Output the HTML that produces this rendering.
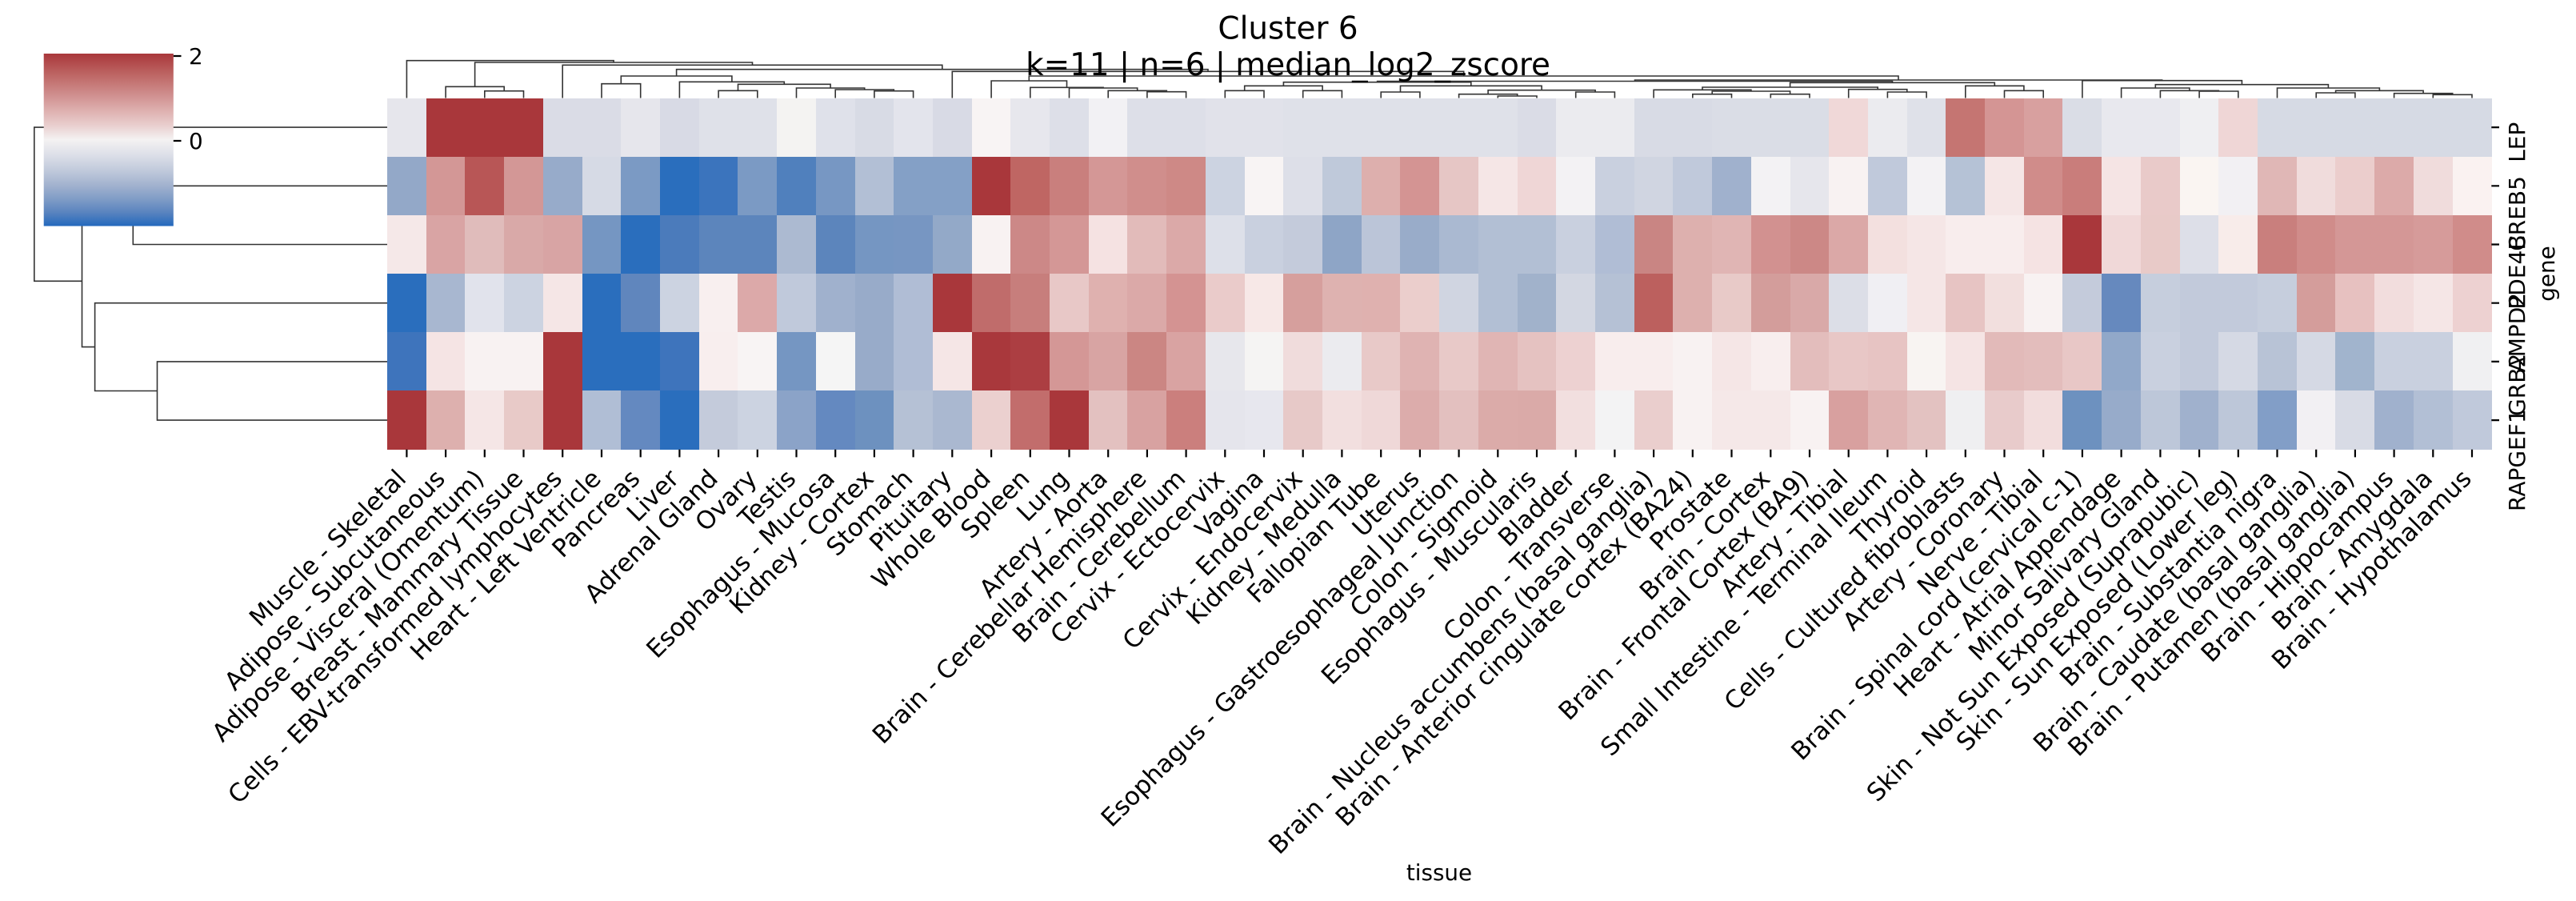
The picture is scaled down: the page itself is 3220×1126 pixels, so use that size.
<!DOCTYPE html>
<html><head><meta charset="utf-8"><style>
html,body{margin:0;padding:0;background:#fff;}
#wrap{position:relative;width:3220px;height:1126px;overflow:hidden;background:#fff;}
#hm{position:absolute;left:484px;top:122.5px;width:2630.3px;height:439.2px;display:grid;grid-template-columns:repeat(54,1fr);grid-template-rows:repeat(6,1fr);}
#hm i{display:block;margin-right:-0.5px;margin-bottom:-0.5px;}
svg{position:absolute;left:0;top:0;}
</style></head><body><div id="wrap">
<div id="hm">
<i style="background:#e6e6ec"></i><i style="background:#a9373b"></i><i style="background:#a9373b"></i><i style="background:#a9373b"></i><i style="background:#dadce6"></i><i style="background:#dadce6"></i><i style="background:#e6e6ec"></i><i style="background:#d8dae5"></i><i style="background:#dfe1e9"></i><i style="background:#dfe1e9"></i><i style="background:#f4f3f2"></i><i style="background:#dfe1ea"></i><i style="background:#d8dbe5"></i><i style="background:#e3e4ec"></i><i style="background:#d8dae5"></i><i style="background:#f8f4f4"></i><i style="background:#e7e7ed"></i><i style="background:#dddfe8"></i><i style="background:#f2f1f4"></i><i style="background:#dddfe8"></i><i style="background:#dddfe8"></i><i style="background:#e1e2ea"></i><i style="background:#e1e2ea"></i><i style="background:#dfe1e9"></i><i style="background:#dfe1e9"></i><i style="background:#dfe1e9"></i><i style="background:#dfe1e9"></i><i style="background:#dfe1e9"></i><i style="background:#dfe1e9"></i><i style="background:#dadce6"></i><i style="background:#ebebef"></i><i style="background:#ebebef"></i><i style="background:#d8dbe5"></i><i style="background:#d8dbe5"></i><i style="background:#dadde6"></i><i style="background:#dadde6"></i><i style="background:#dadde6"></i><i style="background:#f0d8d8"></i><i style="background:#ebebef"></i><i style="background:#dfe1e9"></i><i style="background:#c57572"></i><i style="background:#d49594"></i><i style="background:#d8a09f"></i><i style="background:#dadde6"></i><i style="background:#e8e8ee"></i><i style="background:#e8e8ee"></i><i style="background:#efeff2"></i><i style="background:#efd6d6"></i><i style="background:#d6dae4"></i><i style="background:#d6dae4"></i><i style="background:#d6dae4"></i><i style="background:#d6dae4"></i><i style="background:#d6dae4"></i><i style="background:#d6dae4"></i>
<i style="background:#93a8c8"></i><i style="background:#d39796"></i><i style="background:#b85656"></i><i style="background:#d39796"></i><i style="background:#97abca"></i><i style="background:#d6dae5"></i><i style="background:#7b9ac4"></i><i style="background:#2a6ebd"></i><i style="background:#3b74bd"></i><i style="background:#7b9ac4"></i><i style="background:#5080bd"></i><i style="background:#7797c3"></i><i style="background:#b2bfd5"></i><i style="background:#84a0c6"></i><i style="background:#84a0c6"></i><i style="background:#a9373b"></i><i style="background:#bf6663"></i><i style="background:#c97f7d"></i><i style="background:#d49796"></i><i style="background:#d08e8c"></i><i style="background:#ce8986"></i><i style="background:#ccd3e1"></i><i style="background:#f8f4f4"></i><i style="background:#dddfe8"></i><i style="background:#bfc9da"></i><i style="background:#ddafad"></i><i style="background:#d49493"></i><i style="background:#e6c6c5"></i><i style="background:#f5e6e6"></i><i style="background:#efd6d6"></i><i style="background:#f3f2f4"></i><i style="background:#c9d0df"></i><i style="background:#d0d5e1"></i><i style="background:#c0c9db"></i><i style="background:#a0b1cd"></i><i style="background:#f3f2f4"></i><i style="background:#e6e6ec"></i><i style="background:#f8f2f2"></i><i style="background:#c0c9db"></i><i style="background:#f3f2f4"></i><i style="background:#b5c2d6"></i><i style="background:#f5e6e6"></i><i style="background:#d08c8a"></i><i style="background:#c97d7b"></i><i style="background:#f5e4e4"></i><i style="background:#e9cac9"></i><i style="background:#faf5f2"></i><i style="background:#f2f0f3"></i><i style="background:#e0b7b6"></i><i style="background:#f0dcdc"></i><i style="background:#ebcdcc"></i><i style="background:#dcaaa9"></i><i style="background:#f0dcdc"></i><i style="background:#faf2f1"></i>
<i style="background:#f5e8e8"></i><i style="background:#d9a4a4"></i><i style="background:#e0bcbb"></i><i style="background:#d9a9a8"></i><i style="background:#d8a4a4"></i><i style="background:#7596c2"></i><i style="background:#2a6ebd"></i><i style="background:#4b7bbb"></i><i style="background:#5c85bc"></i><i style="background:#5c85bc"></i><i style="background:#acbad1"></i><i style="background:#5c85bc"></i><i style="background:#7596c2"></i><i style="background:#7796c2"></i><i style="background:#93a9c8"></i><i style="background:#f8f2f2"></i><i style="background:#cc8887"></i><i style="background:#d49796"></i><i style="background:#f5e2e2"></i><i style="background:#e2bbba"></i><i style="background:#dba9a8"></i><i style="background:#dde0e9"></i><i style="background:#c9d0df"></i><i style="background:#c4cbdb"></i><i style="background:#8ea5c6"></i><i style="background:#bbc5d8"></i><i style="background:#99acc9"></i><i style="background:#aab9d1"></i><i style="background:#b2bfd4"></i><i style="background:#b2bfd4"></i><i style="background:#c9d0df"></i><i style="background:#b0bdd5"></i><i style="background:#c98583"></i><i style="background:#ddb0ae"></i><i style="background:#e0b5b4"></i><i style="background:#d29190"></i><i style="background:#cc8886"></i><i style="background:#dba8a7"></i><i style="background:#f3e0df"></i><i style="background:#f5e6e6"></i><i style="background:#f8eded"></i><i style="background:#f8eded"></i><i style="background:#f5e3e3"></i><i style="background:#a9373b"></i><i style="background:#f0d8d8"></i><i style="background:#e8cac8"></i><i style="background:#dddfe8"></i><i style="background:#f8ecea"></i><i style="background:#c97f7d"></i><i style="background:#d08c8a"></i><i style="background:#d49796"></i><i style="background:#d49796"></i><i style="background:#d69b9a"></i><i style="background:#d08c8a"></i>
<i style="background:#2a6ebd"></i><i style="background:#a8b7d0"></i><i style="background:#e1e3ec"></i><i style="background:#ccd3e1"></i><i style="background:#f5e6e6"></i><i style="background:#2a6ebd"></i><i style="background:#6086bd"></i><i style="background:#ccd3e1"></i><i style="background:#f8efef"></i><i style="background:#dca9a9"></i><i style="background:#c0c9db"></i><i style="background:#a0b1cd"></i><i style="background:#98abc9"></i><i style="background:#b0bdd5"></i><i style="background:#a9373b"></i><i style="background:#c06c6b"></i><i style="background:#c77e7c"></i><i style="background:#e8c8c7"></i><i style="background:#dfb1af"></i><i style="background:#dba9a8"></i><i style="background:#d49392"></i><i style="background:#eacbca"></i><i style="background:#f7e8e7"></i><i style="background:#d69f9d"></i><i style="background:#deb2b0"></i><i style="background:#dfb1af"></i><i style="background:#ebcecc"></i><i style="background:#d0d5e1"></i><i style="background:#b2bfd4"></i><i style="background:#a1b2cb"></i><i style="background:#d3d7e2"></i><i style="background:#b5c1d5"></i><i style="background:#bc605e"></i><i style="background:#ddb0ae"></i><i style="background:#e8cac8"></i><i style="background:#d39d9b"></i><i style="background:#d9a9a8"></i><i style="background:#dcdee7"></i><i style="background:#f0eff3"></i><i style="background:#f5e6e6"></i><i style="background:#e7c4c3"></i><i style="background:#f2dfde"></i><i style="background:#f8f2f2"></i><i style="background:#c4cbdb"></i><i style="background:#6689be"></i><i style="background:#c6cedd"></i><i style="background:#c2cadb"></i><i style="background:#c2cadb"></i><i style="background:#c6cedd"></i><i style="background:#d49d9b"></i><i style="background:#e7c1c0"></i><i style="background:#f2dddd"></i><i style="background:#f5e6e6"></i><i style="background:#edd1d1"></i>
<i style="background:#3e74bc"></i><i style="background:#f5e4e4"></i><i style="background:#f8f2f2"></i><i style="background:#f8f2f2"></i><i style="background:#a9373b"></i><i style="background:#2a6ebd"></i><i style="background:#2a6ebd"></i><i style="background:#3e74bc"></i><i style="background:#f8eeee"></i><i style="background:#f8f4f4"></i><i style="background:#7596c2"></i><i style="background:#f5f5f5"></i><i style="background:#98abc9"></i><i style="background:#b0bdd5"></i><i style="background:#f5e6e6"></i><i style="background:#a9383c"></i><i style="background:#ac3e42"></i><i style="background:#d49796"></i><i style="background:#d8a4a3"></i><i style="background:#cb8683"></i><i style="background:#d9a3a2"></i><i style="background:#e7e7ec"></i><i style="background:#f5f4f3"></i><i style="background:#f0dcdc"></i><i style="background:#ebebef"></i><i style="background:#e8c9c8"></i><i style="background:#dfb3b2"></i><i style="background:#e8c9c8"></i><i style="background:#e0b5b4"></i><i style="background:#e5c2c1"></i><i style="background:#edd1d1"></i><i style="background:#f8eded"></i><i style="background:#f8eded"></i><i style="background:#f8f2f2"></i><i style="background:#f5e6e6"></i><i style="background:#f8eeee"></i><i style="background:#e3bdbc"></i><i style="background:#e8c7c6"></i><i style="background:#e7c4c3"></i><i style="background:#f8f4f2"></i><i style="background:#f5e4e4"></i><i style="background:#e2bab9"></i><i style="background:#e3bdbc"></i><i style="background:#e8c7c6"></i><i style="background:#91a8c9"></i><i style="background:#c9d0df"></i><i style="background:#c2cadb"></i><i style="background:#d5d9e4"></i><i style="background:#b8c3d6"></i><i style="background:#d5d9e4"></i><i style="background:#a1b4cd"></i><i style="background:#c9d0df"></i><i style="background:#c9d0df"></i><i style="background:#f0f0f2"></i>
<i style="background:#a9373b"></i><i style="background:#ddb0ae"></i><i style="background:#f5e6e6"></i><i style="background:#e8cac8"></i><i style="background:#a9373b"></i><i style="background:#b0bed5"></i><i style="background:#6489c0"></i><i style="background:#2a6ebd"></i><i style="background:#c4cbdb"></i><i style="background:#ccd3e1"></i><i style="background:#8ba3c8"></i><i style="background:#6489c0"></i><i style="background:#6d91bf"></i><i style="background:#b5c1d5"></i><i style="background:#aab8d0"></i><i style="background:#ebd0cf"></i><i style="background:#c26d6c"></i><i style="background:#a9373b"></i><i style="background:#e3c1c0"></i><i style="background:#d8a2a1"></i><i style="background:#cb7f7d"></i><i style="background:#e5e5ec"></i><i style="background:#e7e7ee"></i><i style="background:#e7c9c8"></i><i style="background:#f2dfdf"></i><i style="background:#efd8d8"></i><i style="background:#dcacab"></i><i style="background:#e3c0bf"></i><i style="background:#dbaba9"></i><i style="background:#daaaa8"></i><i style="background:#f2dfdf"></i><i style="background:#f3f3f4"></i><i style="background:#eacecd"></i><i style="background:#f8f2f2"></i><i style="background:#f5e8e8"></i><i style="background:#f5e8e8"></i><i style="background:#f8f2f2"></i><i style="background:#d8a09f"></i><i style="background:#e0b5b4"></i><i style="background:#e3c2c1"></i><i style="background:#efeff1"></i><i style="background:#e8cbcb"></i><i style="background:#f2dddd"></i><i style="background:#6d91bf"></i><i style="background:#97abca"></i><i style="background:#bdc7d9"></i><i style="background:#a0b1cd"></i><i style="background:#bdc7d9"></i><i style="background:#829ec7"></i><i style="background:#f2f0f3"></i><i style="background:#d8dbe5"></i><i style="background:#a0b1cd"></i><i style="background:#b2bfd5"></i><i style="background:#c0c9db"></i>
</div>
<svg width="3220" height="1126" viewBox="0 0 3220 1126" xmlns="http://www.w3.org/2000/svg" font-family="'DejaVu Sans','Liberation Sans',sans-serif">
<defs>
<linearGradient id="vlag" x1="0" y1="1" x2="0" y2="0">
<stop offset="0" stop-color="#2369bd"/>
<stop offset="0.08" stop-color="#5a84bf"/>
<stop offset="0.155" stop-color="#7f9cc6"/>
<stop offset="0.24" stop-color="#a3b3cf"/>
<stop offset="0.32" stop-color="#c0c9db"/>
<stop offset="0.41" stop-color="#dcdfe8"/>
<stop offset="0.5" stop-color="#f4f2f2"/>
<stop offset="0.59" stop-color="#e8cccc"/>
<stop offset="0.67" stop-color="#deb0af"/>
<stop offset="0.756" stop-color="#d09090"/>
<stop offset="0.88" stop-color="#bd6563"/>
<stop offset="1" stop-color="#a9373b"/>
</linearGradient>
</defs>
<!-- row dendrogram -->
<g fill="none" stroke="#333" stroke-width="1.6">
<path d="M484 159.1H42.8V351.3H102.5"/>
<path d="M166.3 268.9H102.5V433.6H118.6"/>
<path d="M484 232.3H166.3V305.5H484"/>
<path d="M484 378.7H118.6V488.5H196.5"/>
<path d="M484 451.9H196.5V525.1H484"/>
</g>
<!-- column dendrogram -->
<g fill="none" stroke="#333" stroke-width="1.6">
<path d="M605.8 122.5V113.7H654.5V122.5"/>
<path d="M557.1 122.5V108.3H630.2V113.7"/>
<path d="M752.0 122.5V104.7H800.7V122.5"/>
<path d="M898.1 122.5V113.3H946.8V122.5"/>
<path d="M1092.9 122.5V113.7H1141.6V122.5"/>
<path d="M1044.2 122.5V112H1117.3V113.7"/>
<path d="M995.5 122.5V110H1080.7V112"/>
<path d="M922.5 113.3V105.3H1038.1V110"/>
<path d="M849.4 122.5V102.3H980.3V105.3"/>
<path d="M776.3 104.7V95H914.9V102.3"/>
<path d="M1433.9 122.5V114.7H1482.6V122.5"/>
<path d="M1385.2 122.5V113.3H1458.3V114.7"/>
<path d="M1336.5 122.5V110H1421.7V113.3"/>
<path d="M1287.8 122.5V109.3H1379.1V110"/>
<path d="M1239.1 122.5V101H1333.5V109.3"/>
<path d="M1531.3 122.5V113.3H1580.0V122.5"/>
<path d="M1628.7 122.5V113.3H1677.4V122.5"/>
<path d="M1555.7 113.3V107.3H1653.1V113.3"/>
<path d="M1726.2 122.5V115H1774.9V122.5"/>
<path d="M1872.3 122.5V120H1921.0V122.5"/>
<path d="M1823.6 122.5V117.7H1896.7V120"/>
<path d="M1969.7 122.5V115H2018.4V122.5"/>
<path d="M1860.1 117.7V112.7H1994.1V115"/>
<path d="M1750.5 115V107.3H1927.1V112.7"/>
<path d="M1604.4 107.3V102.7H1838.8V107.3"/>
<path d="M2115.8 122.5V117.7H2164.5V122.5"/>
<path d="M2213.3 122.5V117.7H2262.0V122.5"/>
<path d="M2140.2 117.7V114H2237.6V117.7"/>
<path d="M2067.1 122.5V112.3H2188.9V114"/>
<path d="M2359.4 122.5V115H2408.1V122.5"/>
<path d="M2310.7 122.5V111.7H2383.8V115"/>
<path d="M2128.0 112.3V109H2347.2V111.7"/>
<path d="M2505.5 122.5V113.3H2554.2V122.5"/>
<path d="M2456.8 122.5V107.3H2529.9V113.3"/>
<path d="M2237.6 109V103.3H2493.3V107.3"/>
<path d="M1721.6 102.7V101.5H2365.5V103.3"/>
<path d="M2749.1 122.5V114H2797.8V122.5"/>
<path d="M2700.4 122.5V113.3H2773.4V114"/>
<path d="M2651.6 122.5V110H2736.9V113.3"/>
<path d="M2895.2 122.5V116H2943.9V122.5"/>
<path d="M3041.3 122.5V118.3H3090.0V122.5"/>
<path d="M2992.6 122.5V116.7H3065.7V118.3"/>
<path d="M2919.6 116V113.3H3029.1V116.7"/>
<path d="M2846.5 122.5V110H2974.4V113.3"/>
<path d="M2694.3 110V105.7H2910.4V110"/>
<path d="M2602.9 122.5V100.7H2802.4V105.7"/>
<path d="M2043.5 101.5V100H2702.6V100.7"/>
<path d="M1286.3 101V95H2373.0V100"/>
<path d="M1190.3 122.5V89.3H1829.7V95"/>
<path d="M845.6 95V86.7H1510.0V89.3"/>
<path d="M703.2 122.5V81.3H1177.8V86.7"/>
<path d="M593.6 108.3V78H940.5V81.3"/>
<path d="M508.4 122.5V75.7H767.1V78"/>
</g>
<!-- colorbar -->
<rect x="54.7" y="67" width="162.1" height="215.5" fill="url(#vlag)"/>
<path d="M216.8 70H226.5M216.8 176H226.5" stroke="#000" stroke-width="2.2"/>
<g font-size="27.8" fill="#000">
<text x="236" y="80.2">2</text>
<text x="236" y="186.2">0</text>
</g>
<!-- ticks -->
<path stroke="#000" stroke-width="2.2" fill="none" d="M508.4 561.7v9.7M557.1 561.7v9.7M605.8 561.7v9.7M654.5 561.7v9.7M703.2 561.7v9.7M752.0 561.7v9.7M800.7 561.7v9.7M849.4 561.7v9.7M898.1 561.7v9.7M946.8 561.7v9.7M995.5 561.7v9.7M1044.2 561.7v9.7M1092.9 561.7v9.7M1141.6 561.7v9.7M1190.3 561.7v9.7M1239.1 561.7v9.7M1287.8 561.7v9.7M1336.5 561.7v9.7M1385.2 561.7v9.7M1433.9 561.7v9.7M1482.6 561.7v9.7M1531.3 561.7v9.7M1580.0 561.7v9.7M1628.7 561.7v9.7M1677.4 561.7v9.7M1726.2 561.7v9.7M1774.9 561.7v9.7M1823.6 561.7v9.7M1872.3 561.7v9.7M1921.0 561.7v9.7M1969.7 561.7v9.7M2018.4 561.7v9.7M2067.1 561.7v9.7M2115.8 561.7v9.7M2164.5 561.7v9.7M2213.3 561.7v9.7M2262.0 561.7v9.7M2310.7 561.7v9.7M2359.4 561.7v9.7M2408.1 561.7v9.7M2456.8 561.7v9.7M2505.5 561.7v9.7M2554.2 561.7v9.7M2602.9 561.7v9.7M2651.6 561.7v9.7M2700.4 561.7v9.7M2749.1 561.7v9.7M2797.8 561.7v9.7M2846.5 561.7v9.7M2895.2 561.7v9.7M2943.9 561.7v9.7M2992.6 561.7v9.7M3041.3 561.7v9.7M3090.0 561.7v9.7M3114.3 159.1h9.7M3114.3 232.3h9.7M3114.3 305.5h9.7M3114.3 378.7h9.7M3114.3 451.9h9.7M3114.3 525.1h9.7"/>
<!-- x tick labels -->
<g font-size="31" fill="#000" text-anchor="end">
<text transform="translate(509.4 600) rotate(-45)">Muscle - Skeletal</text>
<text transform="translate(558.1 600) rotate(-45)">Adipose - Subcutaneous</text>
<text transform="translate(606.8 600) rotate(-45)">Adipose - Visceral (Omentum)</text>
<text transform="translate(655.5 600) rotate(-45)">Breast - Mammary Tissue</text>
<text transform="translate(704.2 600) rotate(-45)">Cells - EBV-transformed lymphocytes</text>
<text transform="translate(753.0 600) rotate(-45)">Heart - Left Ventricle</text>
<text transform="translate(801.7 600) rotate(-45)">Pancreas</text>
<text transform="translate(850.4 600) rotate(-45)">Liver</text>
<text transform="translate(899.1 600) rotate(-45)">Adrenal Gland</text>
<text transform="translate(947.8 600) rotate(-45)">Ovary</text>
<text transform="translate(996.5 600) rotate(-45)">Testis</text>
<text transform="translate(1045.2 600) rotate(-45)">Esophagus - Mucosa</text>
<text transform="translate(1093.9 600) rotate(-45)">Kidney - Cortex</text>
<text transform="translate(1142.6 600) rotate(-45)">Stomach</text>
<text transform="translate(1191.3 600) rotate(-45)">Pituitary</text>
<text transform="translate(1240.1 600) rotate(-45)">Whole Blood</text>
<text transform="translate(1288.8 600) rotate(-45)">Spleen</text>
<text transform="translate(1337.5 600) rotate(-45)">Lung</text>
<text transform="translate(1386.2 600) rotate(-45)">Artery - Aorta</text>
<text transform="translate(1434.9 600) rotate(-45)">Brain - Cerebellar Hemisphere</text>
<text transform="translate(1483.6 600) rotate(-45)">Brain - Cerebellum</text>
<text transform="translate(1532.3 600) rotate(-45)">Cervix - Ectocervix</text>
<text transform="translate(1581.0 600) rotate(-45)">Vagina</text>
<text transform="translate(1629.7 600) rotate(-45)">Cervix - Endocervix</text>
<text transform="translate(1678.4 600) rotate(-45)">Kidney - Medulla</text>
<text transform="translate(1727.2 600) rotate(-45)">Fallopian Tube</text>
<text transform="translate(1775.9 600) rotate(-45)">Uterus</text>
<text transform="translate(1824.6 600) rotate(-45)">Esophagus - Gastroesophageal Junction</text>
<text transform="translate(1873.3 600) rotate(-45)">Colon - Sigmoid</text>
<text transform="translate(1922.0 600) rotate(-45)">Esophagus - Muscularis</text>
<text transform="translate(1970.7 600) rotate(-45)">Bladder</text>
<text transform="translate(2019.4 600) rotate(-45)">Colon - Transverse</text>
<text transform="translate(2068.1 600) rotate(-45)">Brain - Nucleus accumbens (basal ganglia)</text>
<text transform="translate(2116.8 600) rotate(-45)">Brain - Anterior cingulate cortex (BA24)</text>
<text transform="translate(2165.5 600) rotate(-45)">Prostate</text>
<text transform="translate(2214.3 600) rotate(-45)">Brain - Cortex</text>
<text transform="translate(2263.0 600) rotate(-45)">Brain - Frontal Cortex (BA9)</text>
<text transform="translate(2311.7 600) rotate(-45)">Artery - Tibial</text>
<text transform="translate(2360.4 600) rotate(-45)">Small Intestine - Terminal Ileum</text>
<text transform="translate(2409.1 600) rotate(-45)">Thyroid</text>
<text transform="translate(2457.8 600) rotate(-45)">Cells - Cultured fibroblasts</text>
<text transform="translate(2506.5 600) rotate(-45)">Artery - Coronary</text>
<text transform="translate(2555.2 600) rotate(-45)">Nerve - Tibial</text>
<text transform="translate(2603.9 600) rotate(-45)">Brain - Spinal cord (cervical c-1)</text>
<text transform="translate(2652.6 600) rotate(-45)">Heart - Atrial Appendage</text>
<text transform="translate(2701.4 600) rotate(-45)">Minor Salivary Gland</text>
<text transform="translate(2750.1 600) rotate(-45)">Skin - Not Sun Exposed (Suprapubic)</text>
<text transform="translate(2798.8 600) rotate(-45)">Skin - Sun Exposed (Lower leg)</text>
<text transform="translate(2847.5 600) rotate(-45)">Brain - Substantia nigra</text>
<text transform="translate(2896.2 600) rotate(-45)">Brain - Caudate (basal ganglia)</text>
<text transform="translate(2944.9 600) rotate(-45)">Brain - Putamen (basal ganglia)</text>
<text transform="translate(2993.6 600) rotate(-45)">Brain - Hippocampus</text>
<text transform="translate(3042.3 600) rotate(-45)">Brain - Amygdala</text>
<text transform="translate(3091.0 600) rotate(-45)">Brain - Hypothalamus</text>
</g>
<!-- gene labels -->
<g font-size="28" fill="#000">
<text transform="translate(3156 202.8) rotate(-90)">LEP</text>
<text transform="translate(3156 313.8) rotate(-90)">CREB5</text>
<text transform="translate(3156 386.6) rotate(-90)">PDE4B</text>
<text transform="translate(3156 465.4) rotate(-90)">AMPD2</text>
<text transform="translate(3156 519.9) rotate(-90)">GRB2</text>
<text transform="translate(3156 639) rotate(-90)">RAPGEF1</text>
</g>
<text transform="translate(3193 342) rotate(-90)" font-size="27.8" text-anchor="middle" fill="#000">gene</text>
<text x="1799" y="1100" font-size="27.8" text-anchor="middle" fill="#000">tissue</text>
<!-- title -->
<g font-size="38.9" text-anchor="middle" fill="#000">
<text x="1610" y="48.5">Cluster 6</text>
<text x="1610" y="94">k=11 | n=6 | median_log2_zscore</text>
</g>
</svg>
</div></body></html>
